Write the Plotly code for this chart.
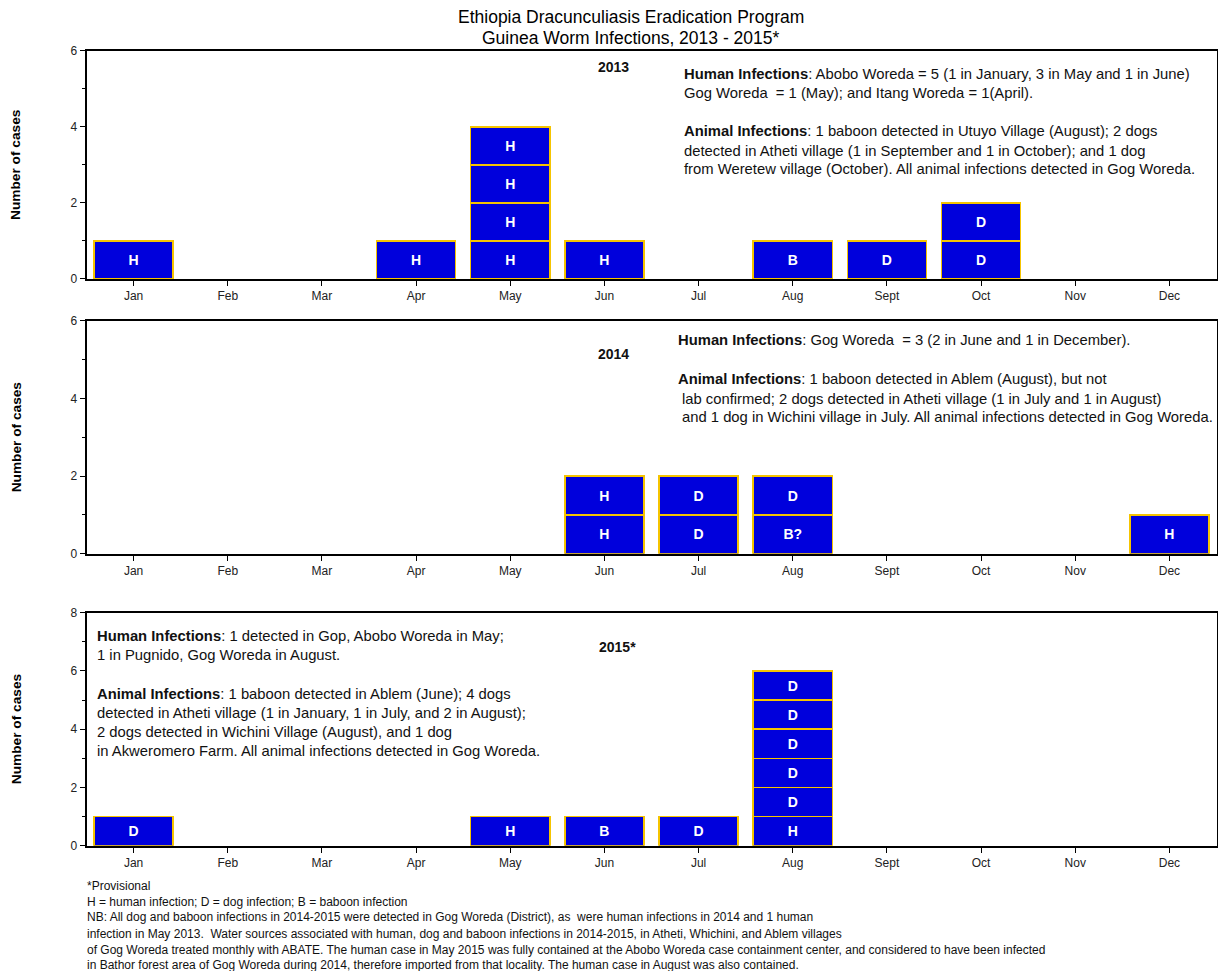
import plotly.graph_objects as go

# ---------------- data ----------------
months = ["Jan", "Feb", "Mar", "Apr", "May", "Jun", "Jul", "Aug", "Sept", "Oct", "Nov", "Dec"]

# each month: list of stacked case labels (bottom -> top), each case = 1
cases_2013 = [["H"], [], [], ["H"], ["H", "H", "H", "H"], ["H"], [], ["B"], ["D"], ["D", "D"], [], []]
cases_2014 = [[], [], [], [], [], ["H", "H"], ["D", "D"], ["B?", "D"], [], [], [], ["H"]]
cases_2015 = [["D"], [], [], [], ["H"], ["B"], ["D"], ["H", "D", "D", "D", "D", "D"], [], [], [], []]

year_labels = ["2013", "2014", "2015*"]
y_max = [6, 6, 8]

title_lines = ["Ethiopia Dracunculiasis Eradication Program",
               "Guinea Worm Infections, 2013 - 2015*"]

notes_2013 = [
    "<b>Human Infections</b>: Abobo Woreda = 5 (1 in January, 3 in May and 1 in June)",
    "Gog Woreda  = 1 (May); and Itang Woreda = 1(April).",
    "<b>Animal Infections</b>: 1 baboon detected in Utuyo Village (August); 2 dogs",
    "detected in Atheti village (1 in September and 1 in October); and 1 dog",
    "from Weretew village (October). All animal infections detected in Gog Woreda.",
]
notes_2014 = [
    "<b>Human Infections</b>: Gog Woreda  = 3 (2 in June and 1 in December).",
    "<b>Animal Infections</b>: 1 baboon detected in Ablem (August), but not",
    "lab confirmed; 2 dogs detected in Atheti village (1 in July and 1 in August)",
    "and 1 dog in Wichini village in July. All animal infections detected in Gog Woreda.",
]
notes_2015 = [
    "<b>Human Infections</b>: 1 detected in Gop, Abobo Woreda in May;",
    "1 in Pugnido, Gog Woreda in August.",
    "<b>Animal Infections</b>: 1 baboon detected in Ablem (June); 4 dogs",
    "detected in Atheti village (1 in January, 1 in July, and 2 in August);",
    "2 dogs detected in Wichini Village (August), and 1 dog",
    "in Akweromero Farm. All animal infections detected in Gog Woreda.",
]
footnotes = [
    "*Provisional",
    "H = human infection; D = dog infection; B = baboon infection",
    "NB: All dog and baboon infections in 2014-2015 were detected in Gog Woreda (District), as  were human infections in 2014 and 1 human",
    "infection in May 2013.  Water sources associated with human, dog and baboon infections in 2014-2015, in Atheti, Whichini, and Ablem villages",
    "of Gog Woreda treated monthly with ABATE. The human case in May 2015 was fully contained at the Abobo Woreda case containment center, and considered to have been infected",
    "in Bathor forest area of Gog Woreda during 2014, therefore imported from that locality. The human case in August was also contained.",
]

# ---------------- layout helpers ----------------
W, H = 1218, 971
# observed vertical mapping of the photographed page: out = 0.986*y + 5
VS, VO = 0.986, 5.0
def px(x):
    return x / W
def py(y):
    return 1 - ((y - VO) / VS) / H

FONT = "Liberation Sans, Arial, sans-serif"
BAR_FILL = "#0000DC"
BAR_EDGE = "#F5C400"

panels = [(49, 277), (319, 552), (611, 844)]
all_cases = [cases_2013, cases_2014, cases_2015]

fig = go.Figure()

for i, cases in enumerate(all_cases):
    xa = "x" if i == 0 else f"x{i+1}"
    ya = "y" if i == 0 else f"y{i+1}"
    nlayers = max(len(c) for c in cases)
    for k in range(nlayers):
        yv = [1 if len(c) > k else None for c in cases]
        tv = [c[k] if len(c) > k else "" for c in cases]
        fig.add_trace(go.Bar(
            x=months, y=yv, text=tv, xaxis=xa, yaxis=ya,
            width=0.84,
            marker=dict(color=BAR_FILL, line=dict(color=BAR_EDGE, width=1.5)),
            textposition="inside", insidetextanchor="middle", textangle=0,
            constraintext="none",
            textfont=dict(color="white", size=14, family=FONT, weight="bold"),
            showlegend=False, hoverinfo="skip",
        ))

layout = dict(
    width=W, height=H, autosize=False,
    margin=dict(l=0, r=0, t=0, b=0),
    paper_bgcolor="white", plot_bgcolor="white",
    barmode="stack",
    showlegend=False,
    font=dict(family=FONT, color="#222"),
)

for i, (top, bot) in enumerate(panels):
    sfx = "" if i == 0 else str(i + 1)
    ym = y_max[i]
    layout["xaxis" + sfx] = dict(
        domain=[px(86.5), px(1216.5)],
        anchor="y" + sfx,
        type="category", categoryorder="array", categoryarray=months,
        range=[-0.5, 11.5],
        showline=True, linecolor="black", linewidth=1.8, mirror=True,
        ticks="outside", ticklen=5, tickcolor="black", tickwidth=1,
        tickfont=dict(size=12, family=FONT, color="#222"),
        showgrid=False, zeroline=False, fixedrange=True,
    )
    layout["yaxis" + sfx] = dict(
        domain=[py(bot), py(top)],
        anchor="x" + sfx,
        range=[0, ym],
        tickvals=list(range(0, ym + 1, 2)),
        minor=dict(tickvals=list(range(1, ym, 2)), ticks="outside", ticklen=3, tickcolor="black"),
        showline=True, linecolor="black", linewidth=1.8, mirror=True,
        ticks="outside", ticklen=5, tickcolor="black", tickwidth=1,
        tickfont=dict(size=12, family=FONT, color="#222"),
        showgrid=False, zeroline=False, fixedrange=True,
    )

fig.update_layout(**layout)

ann = []
def text_line(x, y, t, size=14.8, anchor="left", family=FONT, color="#111"):
    ann.append(dict(x=px(x), y=py(y), xref="paper", yref="paper", text=t,
                    showarrow=False, xanchor=anchor, yanchor="middle",
                    font=dict(size=size, family=family, color=color), borderpad=0))

# titles
text_line(631, 15.5, title_lines[0], size=17.5, anchor="center", color="#000")
text_line(631, 36, title_lines[1], size=17.5, anchor="center", color="#000")

# year labels
text_line(613, 65, "<b>" + year_labels[0] + "</b>", size=14, anchor="center")
text_line(613, 352, "<b>" + year_labels[1] + "</b>", size=14, anchor="center")
text_line(617, 645, "<b>" + year_labels[2] + "</b>", size=14, anchor="center")

# notes
for t, y in zip(notes_2013, [72, 91, 129, 149, 167]):
    text_line(683, y, t)
for t, y, x in zip(notes_2014, [338, 377, 397, 415], [677, 677, 681, 681]):
    text_line(x, y, t)
for t, y in zip(notes_2015, [634, 653, 692, 711, 730, 749]):
    text_line(96, y, t)

# footnotes
for t, y in zip(footnotes, [884, 900, 915, 932, 948, 963]):
    text_line(86, y, t, size=12)

# y axis titles
for top, bot in panels:
    ann.append(dict(x=px(16), y=py((top + bot) / 2), xref="paper", yref="paper",
                    text="<b>Number of cases</b>", textangle=-90, showarrow=False,
                    xanchor="center", yanchor="middle",
                    font=dict(size=13.7, family=FONT, color="#000")))

fig.update_layout(annotations=ann)
fig.write_html(
    "out.html",
    config={"displayModeBar": False},
    post_script=(
        "document.body.style.margin='0';"
        "document.documentElement.style.overflow='hidden';"
        "var d=document.getElementsByClassName('plotly-graph-div')[0];"
        "d.style.position='fixed';d.style.top='0';d.style.left='0';"
    ),
)
